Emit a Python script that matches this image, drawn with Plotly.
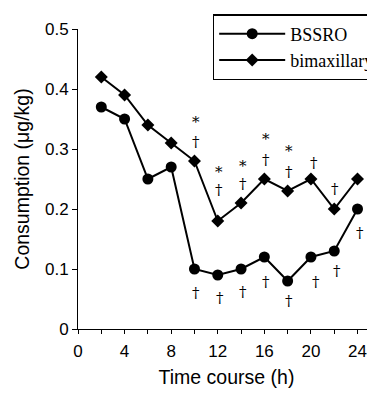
import plotly.graph_objects as go

hours = [2, 4, 6, 8, 10, 12, 14, 16, 18, 20, 22, 24]
bssro = [0.37, 0.35, 0.25, 0.27, 0.10, 0.09, 0.10, 0.12, 0.08, 0.12, 0.13, 0.20]
bimax = [0.42, 0.39, 0.34, 0.31, 0.28, 0.18, 0.21, 0.25, 0.23, 0.25, 0.20, 0.25]

x_ticks = [0, 4, 8, 12, 16, 20, 24]
y_ticks = [0, 0.1, 0.2, 0.3, 0.4, 0.5]
y_ticktext = ["0", "0.1", "0.2", "0.3", "0.4", "0.5"]

# significance marks (symbol, x, y in data units)
mark_text = ["*", "†", "*", "†", "*", "†", "*", "†", "*", "†", "†", "†",
             "†", "†", "†", "†", "†", "†", "†", "†"]
mark_x = [10.1, 10.1, 12.1, 12.1, 14.2, 14.2, 16.1, 16.1, 18.1, 18.1, 20.3, 22.1,
          10.1, 12.2, 14.2, 16.1, 18.1, 20.4, 22.2, 24.2]
mark_y = [0.345, 0.312, 0.262, 0.232, 0.271, 0.241, 0.316, 0.282, 0.296, 0.262, 0.276, 0.234,
          0.060, 0.051, 0.062, 0.079, 0.046, 0.079, 0.096, 0.160]

fig = go.Figure()
fig.add_trace(go.Scatter(
    x=hours, y=bssro, mode="lines+markers", name="BSSRO",
    line=dict(color="black", width=2),
    marker=dict(symbol="circle", size=11, color="black")))
fig.add_trace(go.Scatter(
    x=hours, y=bimax, mode="lines+markers", name="bimaxillary",
    line=dict(color="black", width=2),
    marker=dict(symbol="diamond", size=10, color="black")))

for t, mx, my in zip(mark_text, mark_x, mark_y):
    fig.add_annotation(x=mx, y=my, xref="x", yref="y", text=t, showarrow=False,
                       font=dict(family="DejaVu Serif", size=15, color="black"))

# page body has an 8px margin, so the figure is 8px smaller than the window
fig.update_layout(
    width=367, height=385,
    margin=dict(l=70, r=0, t=21, b=64, autoexpand=False),
    paper_bgcolor="white", plot_bgcolor="white",
    font=dict(family="Liberation Sans", size=17, color="black"),
    legend=dict(
        x=0.4535, y=1.05, xanchor="left", yanchor="top",
        bordercolor="black", borderwidth=1.5, bgcolor="white",
        font=dict(family="Liberation Serif", size=18, color="black"),
        itemwidth=66, tracegroupgap=0,
    ),
    showlegend=True,
)

fig.update_xaxes(
    range=[0, 25.5], tickvals=x_ticks,
    ticks="outside", ticklen=4, tickcolor="black",
    minor=dict(dtick=2, tick0=0, ticks="outside", ticklen=4, tickcolor="black"),
    showline=True, linecolor="black", linewidth=1, showgrid=False, zeroline=False,
    automargin=False, ticklabelstandoff=3,
    title=dict(text="Time course (h)", font=dict(size=19.5), standoff=9),
    tickfont=dict(size=17),
)
fig.update_yaxes(
    range=[0, 0.5], tickvals=y_ticks, ticktext=y_ticktext,
    ticks="outside", ticklen=5, tickcolor="black",
    showline=True, linecolor="black", linewidth=1, showgrid=False, zeroline=False,
    automargin=False,
    title=dict(text="Consumption (μg/kg)", font=dict(size=19.5), standoff=10),
    tickfont=dict(size=17),
)

fig.write_html("out.html")
